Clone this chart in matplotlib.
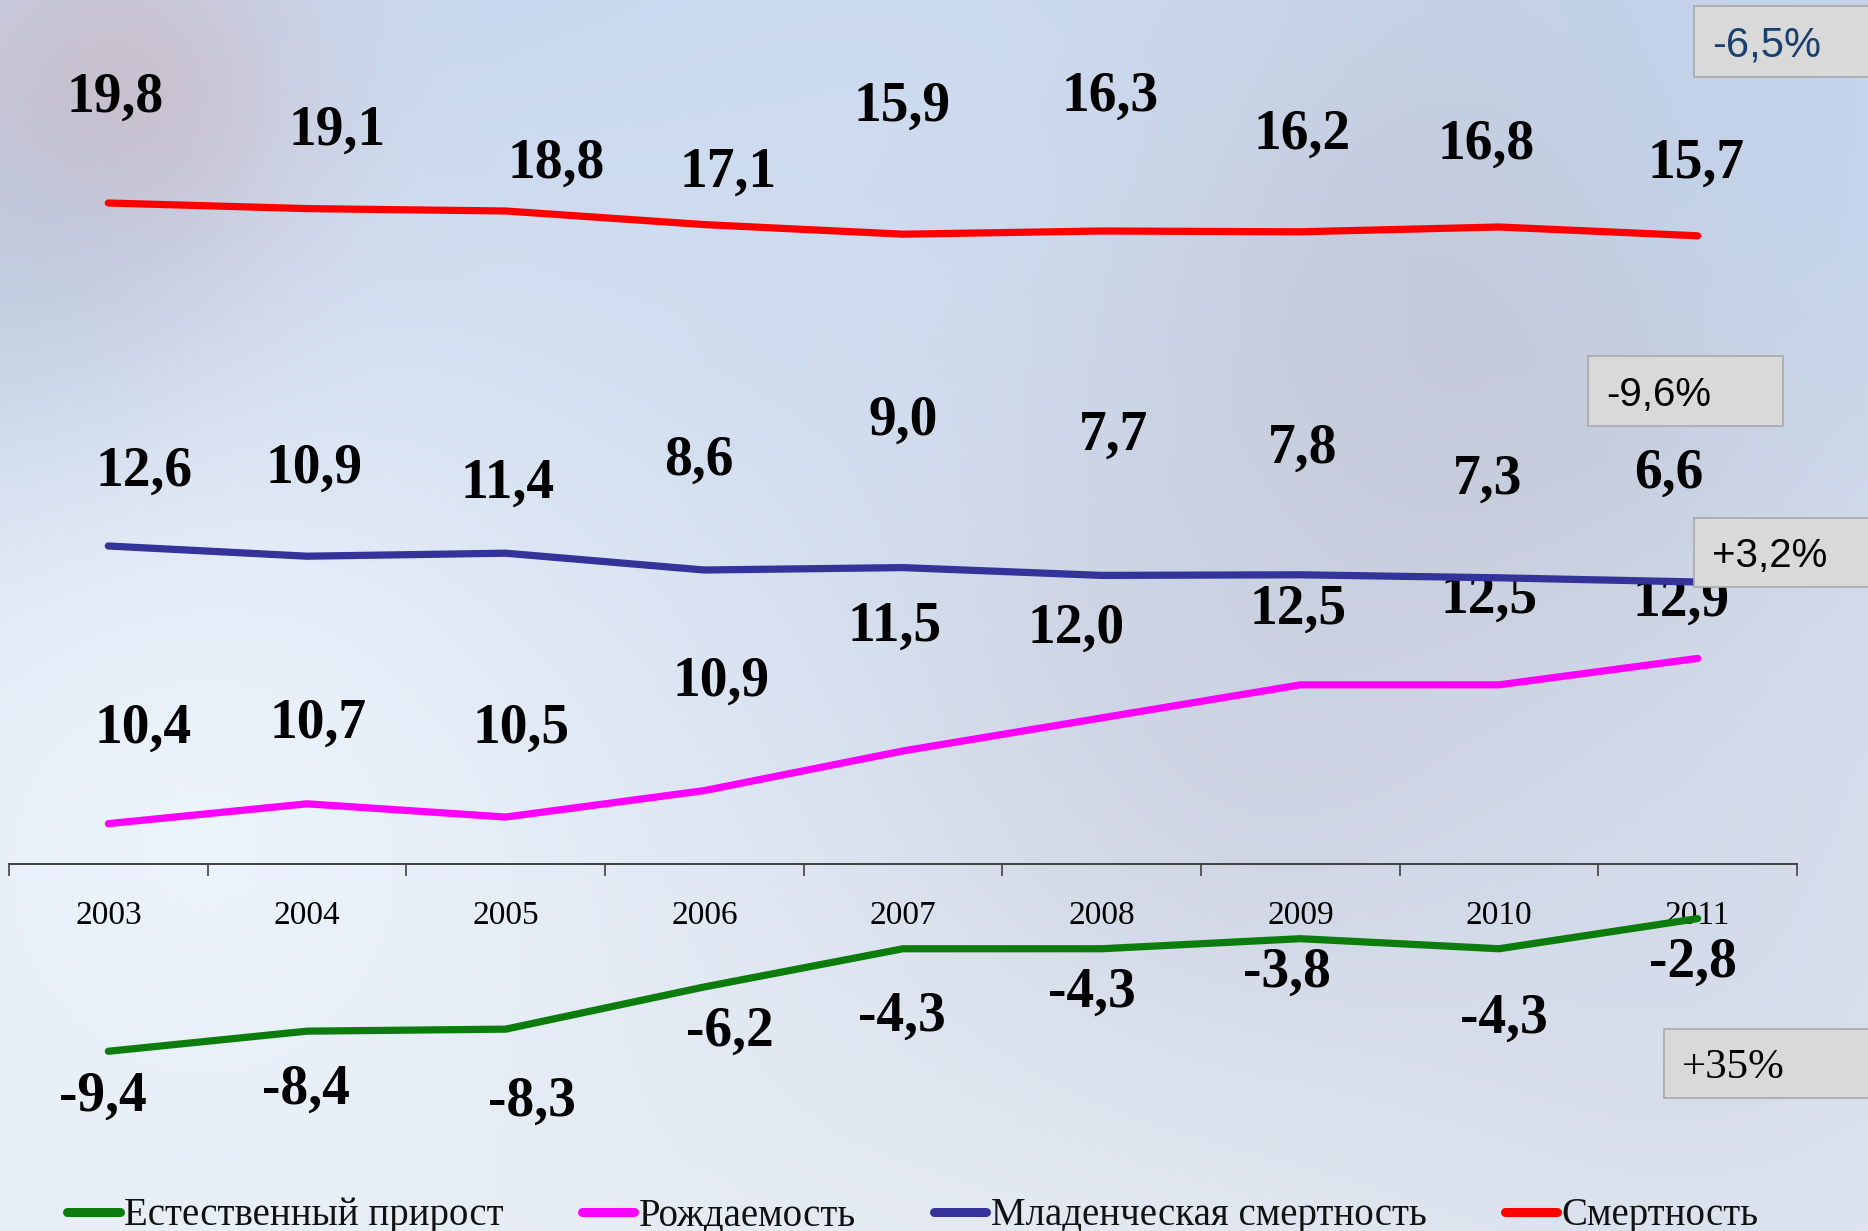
import numpy as np
import matplotlib

matplotlib.use("Agg")
import matplotlib.pyplot as plt
from matplotlib.lines import Line2D
from matplotlib.patches import Rectangle

# --- data ---------------------------------------------------------------
years = ["2003", "2004", "2005", "2006", "2007", "2008", "2009", "2010", "2011"]
mortality = [19.8, 19.1, 18.8, 17.1, 15.9, 16.3, 16.2, 16.8, 15.7]
infant_mortality = [12.6, 10.9, 11.4, 8.6, 9.0, 7.7, 7.8, 7.3, 6.6]
birth_rate = [10.4, 10.7, 10.5, 10.9, 11.5, 12.0, 12.5, 12.5, 12.9]
natural_growth = [-9.4, -8.4, -8.3, -6.2, -4.3, -4.3, -3.8, -4.3, -2.8]

series_names = ["Естественный прирост", "Рождаемость",
                "Младенческая смертность", "Смертность"]
change_labels = ["-6,5%", "-9,6%", "+3,2%", "+35%"]

W, H = 1868, 1231
fig = plt.figure(figsize=(W / 100, H / 100), dpi=100)


def px_rect(left, top, right, bottom):
    """Pixel box (top-left origin) -> figure fraction [l, b, w, h]."""
    return [left / W, 1 - bottom / H, (right - left) / W, (bottom - top) / H]


# --- blurred slide background -------------------------------------------
bg = fig.add_axes([0, 0, 1, 1], zorder=-10)
gy, gx = np.mgrid[0:H:8, 0:W:8]
top_c = np.array([0.78, 0.84, 0.93])
bot_c = np.array([0.90, 0.92, 0.95])
t = (gy / H)[..., None]
img = top_c * (1 - t) + bot_c * t
blobs = [  # (x, y, sigma, colour, strength)
    (110, 110, 130, (0.80, 0.72, 0.76), 0.85),
    (20, 300, 160, (0.68, 0.74, 0.84), 0.6),
    (1450, 330, 260, (0.74, 0.75, 0.80), 0.7),
    (1250, 720, 240, (0.78, 0.80, 0.86), 0.6),
    (200, 820, 320, (0.93, 0.96, 0.99), 0.85),
    (1780, 120, 200, (0.76, 0.83, 0.93), 0.6),
    (900, 60, 300, (0.82, 0.87, 0.95), 0.5),
    (1700, 1000, 260, (0.80, 0.83, 0.90), 0.5),
]
for bx, by, s, col, a in blobs:
    w = a * np.exp(-((gx - bx) ** 2 + (gy - by) ** 2) / (2 * s * s))[..., None]
    img = img * (1 - w) + np.array(col) * w
bg.imshow(img, aspect="auto", interpolation="bilinear", extent=(0, 1, 0, 1))
bg.set_axis_off()

# --- category axis ------------------------------------------------------
x = np.arange(len(years))
left_px, right_px, axis_px = 9, 1797, 864
ax = fig.add_axes(px_rect(left_px, 0, right_px, axis_px))
ax.patch.set_alpha(0)
ax.set_xlim(-0.5, len(years) - 0.5)
ax.set_xticks(x, years)
ax.set_xticks(np.arange(-0.5, len(years), 1), minor=True)
ax.tick_params(axis="x", which="major", length=0, pad=26, labelsize=24)
ax.tick_params(axis="x", which="minor", length=8.5, width=1.2,
               color="#404040", direction="out")
for lab in ax.get_xticklabels():
    lab.set_fontfamily("Liberation Serif")
ax.set_yticks([])
for side in ("top", "left", "right"):
    ax.spines[side].set_visible(False)
ax.spines["bottom"].set_color("#404040")
ax.spines["bottom"].set_linewidth(1.4)

# each series lives in its own band: (values, colour, anchor px, px per unit,
# per-label offsets in pixels)
series = [
    (natural_growth, "#0c7c0c", 978, 20.1,
     [(-5, -45), (-1, -59), (26, -73), (26, -45), (-1, -68),
      (-10, -44), (-13, -34), (5, -70), (-5, -44)]),
    (birth_rate, "#ff00ff", 748, 66.1,
     [(35, 95), (11, 80), (15, 88), (17, 109), (-8, 124),
      (-26, 89), (-2, 75), (-10, 86), (-17, 57)]),
    (infant_mortality, "#333399", 567, 6.0,
     [(36, 74), (7, 87), (2, 69), (-5, 109), (0, 147),
      (12, 140), (2, 126), (-11, 98), (-29, 108)]),
    (mortality, "#ff0000", 223, 8.0,
     [(7, 105), (30, 78), (51, 47), (24, 52), (-1, 127),
      (8, 134), (2, 97), (-13, 82), (-2, 72)]),
]

handles = []
for vals, color, anchor_px, ppu, offsets in series:
    sax = fig.add_axes(px_rect(left_px, 0, right_px, H), sharex=ax)
    sax.set_axis_off()
    mean = float(np.mean(vals))
    ymin = mean - (H - anchor_px) / ppu
    sax.set_ylim(ymin, ymin + H / ppu)
    sax.plot(x, vals, color=color, lw=5.2, solid_capstyle="round",
             solid_joinstyle="round", zorder=3)
    for xi, v, (dx, dy) in zip(x, vals, offsets):
        sax.annotate(f"{v:.1f}".replace(".", ","), xy=(xi, v),
                     xytext=(dx, dy), textcoords="offset pixels",
                     ha="center", va="center", fontsize=40,
                     fontweight="bold", family="Liberation Serif",
                     color="black", zorder=4)
    handles.append(Line2D([], [], color=color, lw=6.5, solid_capstyle="round"))

# --- change boxes -------------------------------------------------------
boxes = [  # (left, top, right, bottom, text colour, family, size)
    (1694, 6, 1880, 77, "#1a406e", "Liberation Sans", 30),
    (1588, 356, 1783, 426, "black", "Liberation Sans", 29),
    (1694, 518, 1880, 587, "black", "Liberation Sans", 29),
    (1664, 1029, 1880, 1098, "black", "Liberation Serif", 31),
]
for label, (l, tp, r, b, tc, fam, fs) in zip(change_labels, boxes):
    l0, b0, w0, h0 = px_rect(l, tp, r, b)
    fig.patches.append(Rectangle((l0, b0), w0, h0, transform=fig.transFigure,
                                 facecolor="#d9d9d9", edgecolor="#a9a9a9",
                                 lw=1.2, zorder=20))
    fig.text((l + 18) / W, 1 - (tp + b) / 2 / H, label, ha="left",
             va="center_baseline", color=tc, family=fam, fontsize=fs,
             zorder=21)

# --- legend along the bottom edge ---------------------------------------
leg = fig.legend(handles, series_names, loc="center",
                 bbox_to_anchor=(913 / W, 1 - 1216 / H), ncol=4,
                 frameon=False, fontsize=28, handlelength=1.35,
                 handletextpad=0.12, columnspacing=2.0, borderaxespad=0)
for txt in leg.get_texts():
    txt.set_fontfamily("Liberation Serif")
    txt.set_color("#111111")

fig.savefig("out.png", dpi=100)
